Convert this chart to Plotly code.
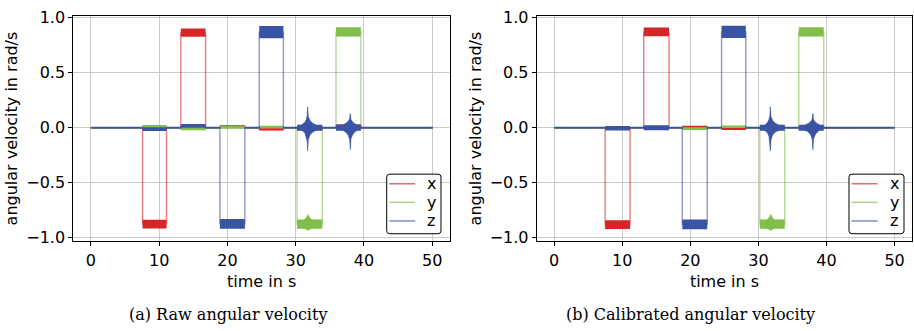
import plotly.graph_objects as go

# ---------------- data ----------------
TIME_TICKS = [0, 10, 20, 30, 40, 50]
VEL_TICKS = [-1.0, -0.5, 0.0, 0.5, 1.0]
SERIES_NAMES = ["x", "y", "z"]
CAPTIONS = ["(a) Raw angular velocity", "(b) Calibrated angular velocity"]

# panel (a): raw angular velocity, segment boundaries (s)
A_BOUNDS = [0.0, 7.57, 11.08, 13.18, 16.80, 18.90, 22.56, 24.66, 28.20, 30.20, 33.90, 35.90, 39.55, 50.10]
A_X_LEVEL = [0.0, -0.878, 0.0, 0.866, 0.0, 0.012, 0.0, -0.016, 0.0, -0.010, 0.0, 0.018, 0.0]
A_X_NOISE = [0.004, 0.040, 0.004, 0.038, 0.004, 0.010, 0.004, 0.010, 0.004, 0.012, 0.004, 0.014, 0.004]
A_Y_LEVEL = [0.0, 0.012, 0.0, -0.010, 0.0, 0.003, 0.0, 0.008, 0.0, -0.878, 0.0, 0.872, 0.0]
A_Y_NOISE = [0.004, 0.012, 0.004, 0.012, 0.004, 0.012, 0.004, 0.010, 0.004, 0.042, 0.004, 0.042, 0.004]
A_Z_LEVEL = [0.0, -0.012, 0.0, 0.016, 0.0, -0.875, 0.0, 0.870, 0.0, 0.0, 0.0, 0.0, 0.0]
A_Z_NOISE = [0.008, 0.017, 0.008, 0.017, 0.008, 0.045, 0.008, 0.055, 0.008, 0.028, 0.008, 0.028, 0.008]

# panel (b): calibrated angular velocity
B_BOUNDS = [0.0, 7.48, 11.14, 13.15, 16.86, 18.82, 22.48, 24.58, 28.15, 30.20, 33.87, 35.92, 39.59, 50.00]
B_X_LEVEL = [0.0, -0.882, 0.0, 0.872, 0.0, 0.008, 0.0, -0.010, 0.0, 0.004, 0.0, -0.006, 0.0]
B_X_NOISE = [0.004, 0.040, 0.004, 0.040, 0.004, 0.010, 0.004, 0.010, 0.004, 0.010, 0.004, 0.010, 0.004]
B_Y_LEVEL = [0.0, 0.003, 0.0, 0.002, 0.0, -0.008, 0.0, 0.010, 0.0, -0.878, 0.0, 0.872, 0.0]
B_Y_NOISE = [0.004, 0.008, 0.004, 0.008, 0.004, 0.012, 0.004, 0.010, 0.004, 0.042, 0.004, 0.042, 0.004]
B_Z_LEVEL = [0.0, -0.005, 0.0, 0.000, 0.0, -0.880, 0.0, 0.872, 0.0, 0.0, 0.0, 0.0, 0.0]
B_Z_NOISE = [0.008, 0.020, 0.008, 0.022, 0.008, 0.045, 0.008, 0.055, 0.008, 0.028, 0.008, 0.028, 0.008]

# z oscillation bursts (envelopes), same in both panels
BURST1_T = [30.5, 31.0, 31.35, 31.55, 31.68, 31.75, 31.85, 32.1, 32.5, 33.1, 33.8]
BURST1_UP = [0.008, 0.028, 0.05, 0.075, 0.11, 0.19, 0.10, 0.065, 0.04, 0.02, 0.008]
BURST1_LO = [-0.008, -0.028, -0.05, -0.08, -0.12, -0.21, -0.11, -0.065, -0.04, -0.02, -0.008]
BURST2_T = [36.3, 36.8, 37.3, 37.7, 37.9, 38.0, 38.1, 38.4, 38.8, 39.2, 39.6]
BURST2_UP = [0.008, 0.02, 0.038, 0.058, 0.08, 0.13, 0.075, 0.048, 0.03, 0.015, 0.008]
BURST2_LO = [-0.008, -0.02, -0.038, -0.068, -0.11, -0.20, -0.10, -0.058, -0.032, -0.015, -0.008]
# small bump on the y plateau around the first burst
YBUMP_T = [31.2, 31.55, 31.8, 32.05, 32.4]
YBUMP_UP = [-0.84, -0.82, -0.79, -0.82, -0.84]
YBUMP_LO = [-0.915, -0.925, -0.935, -0.925, -0.915]

COLORS = {"x": (214, 39, 40), "y": (127, 191, 74), "z": (58, 84, 164)}


def step_xy(bounds, levels):
    xs, ys = [], []
    for i, lev in enumerate(levels):
        xs += [bounds[i], bounds[i + 1]]
        ys += [lev, lev]
    return xs, ys


def band_xy(bounds, levels, noise):
    xs, ys = [], []
    for i, lev in enumerate(levels):
        a, b = bounds[i], bounds[i + 1]
        xs += [a, b, b, a, a, None]
        ys += [lev - noise[i], lev - noise[i], lev + noise[i], lev + noise[i], lev - noise[i], None]
    return xs, ys


def env_xy(t, up, lo):
    return list(t) + list(t[::-1]) + [t[0]], list(up) + list(lo[::-1]) + [up[0]]


fig = go.Figure()

panels = [
    ("x", "y", A_BOUNDS,
     {"x": (A_X_LEVEL, A_X_NOISE), "y": (A_Y_LEVEL, A_Y_NOISE), "z": (A_Z_LEVEL, A_Z_NOISE)}),
    ("x2", "y2", B_BOUNDS,
     {"x": (B_X_LEVEL, B_X_NOISE), "y": (B_Y_LEVEL, B_Y_NOISE), "z": (B_Z_LEVEL, B_Z_NOISE)}),
]

for xa, ya, bounds, data in panels:
    for name in SERIES_NAMES:
        r, g, b = COLORS[name]
        lev, noi = data[name]
        sx, sy = step_xy(bounds, lev)
        fig.add_trace(go.Scatter(x=sx, y=sy, mode="lines", name=name, showlegend=False,
                                 line=dict(color=f"rgba({r},{g},{b},0.6)", width=1.4),
                                 xaxis=xa, yaxis=ya, hoverinfo="skip"))
        bx, by = band_xy(bounds, lev, noi)
        fig.add_trace(go.Scatter(x=bx, y=by, mode="lines", fill="toself", showlegend=False,
                                 fillcolor=f"rgb({r},{g},{b})", line=dict(width=0),
                                 xaxis=xa, yaxis=ya, hoverinfo="skip"))
        extra = []
        if name == "y":
            extra = [(YBUMP_T, YBUMP_UP, YBUMP_LO)]
        if name == "z":
            extra = [(BURST1_T, BURST1_UP, BURST1_LO), (BURST2_T, BURST2_UP, BURST2_LO)]
        for t, up, lo in extra:
            ex, ey = env_xy(t, up, lo)
            fig.add_trace(go.Scatter(x=ex, y=ey, mode="lines", fill="toself", showlegend=False,
                                     fillcolor=f"rgb({r},{g},{b})",
                                     line=dict(width=0.6, color=f"rgb({r},{g},{b})"),
                                     xaxis=xa, yaxis=ya, hoverinfo="skip"))

FONT = "DejaVu Sans"
axis_common = dict(showline=True, linecolor="black", linewidth=1, mirror=True,
                   ticks="outside", ticklen=4, tickwidth=1, tickcolor="black",
                   showgrid=True, gridcolor="#cacaca", gridwidth=1, zeroline=False,
                   tickfont=dict(family=FONT, size=16, color="black"))
xcommon = dict(axis_common, range=[-2.57, 52.6], tickvals=TIME_TICKS,
               title=dict(text="time in s", font=dict(family=FONT, size=16, color="black"), standoff=7))
ycommon = dict(axis_common, range=[-1.035, 1.02], tickvals=VEL_TICKS, tickformat=".1f",
               title=dict(text="angular velocity in rad/s", font=dict(family=FONT, size=16, color="black"), standoff=4))

ydom = [1 - 244 / 331, 1 - 9 / 331]
fig.update_layout(
    width=914, height=331, margin=dict(l=0, r=0, t=0, b=0),
    paper_bgcolor="white", plot_bgcolor="white",
    xaxis=dict(xcommon, domain=[73.3 / 914, 450 / 914], anchor="y"),
    yaxis=dict(ycommon, domain=ydom, anchor="x"),
    xaxis2=dict(xcommon, domain=[536.7 / 914, 912.3 / 914], anchor="y2"),
    yaxis2=dict(ycommon, domain=ydom, anchor="x2"),
    showlegend=False,
)

# ---- legends drawn as boxes with line samples and real text labels ----
W, H = 914.0, 331.0
legend_boxes = [(386.7, 441.0), (849.0, 904.0)]   # left/right edge in px
box_top, box_bot, rad = 174.0, 236.0, 3.0
row_y = [184.0, 203.3, 222.7]
for (lx, rx) in legend_boxes:
    def P(px, py):
        return f"{px / W:.5f},{1 - py / H:.5f}"
    path = (f"M {P(lx + rad, box_top)} L {P(rx - rad, box_top)} Q {P(rx, box_top)} {P(rx, box_top + rad)} "
            f"L {P(rx, box_bot - rad)} Q {P(rx, box_bot)} {P(rx - rad, box_bot)} "
            f"L {P(lx + rad, box_bot)} Q {P(lx, box_bot)} {P(lx, box_bot - rad)} "
            f"L {P(lx, box_top + rad)} Q {P(lx, box_top)} {P(lx + rad, box_top)} Z")
    fig.add_shape(type="path", path=path, xref="paper", yref="paper",
                  fillcolor="rgba(255,255,255,0.85)", line=dict(color="black", width=1), layer="above")
    for name, ry in zip(SERIES_NAMES, row_y):
        r, g, b = COLORS[name]
        fig.add_shape(type="line", xref="paper", yref="paper",
                      x0=(lx + 2.5) / W, x1=(lx + 28.5) / W, y0=1 - ry / H, y1=1 - ry / H,
                      line=dict(color=f"rgba({r},{g},{b},0.65)", width=1.5), layer="above")
        fig.add_annotation(x=(rx - 10) / W, y=1 - ry / H, xref="paper", yref="paper", text=name,
                           showarrow=False, xanchor="center", yanchor="middle",
                           font=dict(family=FONT, size=16, color="black"))

cap_x = [228 / 914, 690 / 914]
for cx, txt in zip(cap_x, CAPTIONS):
    fig.add_annotation(x=cx, y=1 - 320 / 331, xref="paper", yref="paper", text=txt,
                       showarrow=False, xanchor="center", yanchor="middle",
                       font=dict(family="DejaVu Serif", size=16, color="black"))

fig.write_html("out.html")
